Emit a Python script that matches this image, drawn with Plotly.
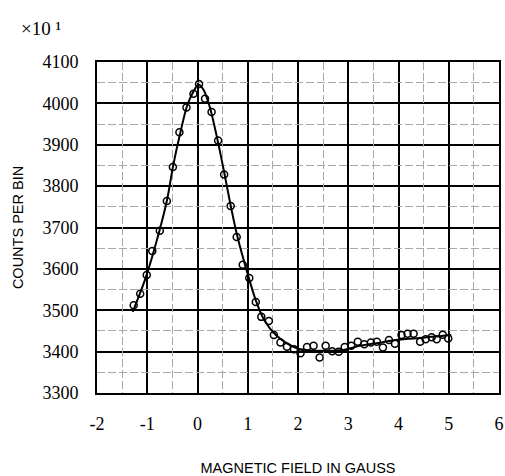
import plotly.graph_objects as go

# measured points (magnetic field in gauss, counts per bin x10)
field = [-1.27, -1.14, -1.01, -0.90, -0.75, -0.61, -0.49, -0.36, -0.22, -0.08,
         0.03, 0.15, 0.28, 0.41, 0.53, 0.66, 0.78, 0.90, 1.03, 1.16,
         1.27, 1.42, 1.52, 1.65, 1.78, 1.92, 2.05, 2.18, 2.31, 2.43,
         2.55, 2.68, 2.81, 2.93, 3.06, 3.19, 3.32, 3.45, 3.57, 3.69,
         3.81, 3.93, 4.06, 4.18, 4.30, 4.43, 4.54, 4.66, 4.76, 4.88, 4.99]
counts = [3512, 3540, 3585, 3643, 3692, 3764, 3846, 3930, 3990, 4023,
          4047, 4011, 3979, 3910, 3828, 3752, 3677, 3610, 3578, 3520,
          3484, 3474, 3440, 3422, 3412, 3406, 3396, 3411, 3414, 3386,
          3414, 3401, 3400, 3411, 3414, 3424, 3418, 3422, 3424, 3410,
          3428, 3419, 3440, 3443, 3443, 3424, 3430, 3435, 3430, 3441, 3432]

# fitted curve
fit_x = [-1.29, -1.03, -0.76, -0.60, -0.49, -0.34, -0.21, -0.08, 0.02, 0.12,
         0.25, 0.38, 0.53, 0.67, 0.80, 1.00, 1.16, 1.33, 1.56, 1.78,
         2.01, 2.24, 2.57, 2.90, 3.22, 3.55, 3.88, 4.20, 4.53, 4.86, 5.05]
fit_y = [3496, 3579, 3691, 3770, 3846, 3930, 3993, 4029, 4045, 4033,
         3989, 3922, 3834, 3747, 3675, 3587, 3524, 3476, 3440, 3420,
         3407, 3403, 3402, 3404, 3414, 3420, 3427, 3431, 3434, 3438, 3440]

x_ticks = [-2, -1, 0, 1, 2, 3, 4, 5, 6]
x_labels = ["-2", "-1", "0", "1", "2", "3", "4", "5", "6"]
y_ticks = [3300, 3400, 3500, 3600, 3700, 3800, 3900, 4000, 4100]
y_labels = ["3300", "3400", "3500", "3600", "3700", "3800", "3900", "4000", "4100"]
x_minor = [-1.5, -0.5, 0.5, 1.5, 2.5, 3.5, 4.5, 5.5]
y_minor = [3350, 3450, 3550, 3650, 3750, 3850, 3950, 4050]
scale_label = "\u00d710 \u00b9"

SERIF = "Liberation Serif"
SANS = "Liberation Sans"

fig = go.Figure()
# invisible trace carrying the minor-grid axes
fig.add_trace(go.Scatter(x=[-2, 6], y=[3300, 4100], xaxis="x2", yaxis="y2",
                         mode="markers", marker=dict(opacity=0), showlegend=False))
fig.add_trace(go.Scatter(x=fit_x, y=fit_y, mode="lines",
                         line=dict(color="black", width=2, shape="spline", smoothing=0.8),
                         showlegend=False))
fig.add_trace(go.Scatter(x=field, y=counts, mode="markers",
                         marker=dict(symbol="circle-open", size=7, color="black",
                                     line=dict(width=1.5, color="black")),
                         showlegend=False))

fig.update_layout(
    width=505, height=476,
    margin=dict(l=97, r=1, t=62, b=79),
    paper_bgcolor="white", plot_bgcolor="white",
    font=dict(family=SERIF, size=18, color="black"),
    xaxis2=dict(overlaying="x", range=[-2, 6], tickmode="array", tickvals=x_minor,
                showticklabels=False, ticks="", showgrid=True, gridcolor="#a8a8a8",
                gridwidth=1, griddash="8px,3px", zeroline=False, showline=False),
    yaxis2=dict(overlaying="y", range=[3300, 4100], tickmode="array", tickvals=y_minor,
                showticklabels=False, ticks="", showgrid=True, gridcolor="#a8a8a8",
                gridwidth=1, griddash="8px,3px", zeroline=False, showline=False),
    xaxis=dict(range=[-2, 6], tickmode="array", tickvals=x_ticks, ticktext=x_labels,
               showgrid=True, gridcolor="black", gridwidth=2,
               showline=True, linecolor="black", linewidth=2, mirror=True,
               ticks="outside", ticklen=13, tickcolor="white",
               ticklabeloverflow="allow",
               tickfont=dict(family=SERIF, size=18, color="black"),
               zeroline=False,
               title=dict(text="MAGNETIC FIELD IN GAUSS",
                          font=dict(family=SANS, size=14.5, color="black"),
                          standoff=31)),
    yaxis=dict(range=[3300, 4100], tickmode="array", tickvals=y_ticks, ticktext=y_labels,
               showgrid=True, gridcolor="black", gridwidth=2,
               showline=True, linecolor="black", linewidth=2, mirror=True,
               ticks="outside", ticklen=13, tickcolor="white",
               tickfont=dict(family=SERIF, size=18, color="black"),
               zeroline=False,
               title=dict(text="COUNTS PER BIN",
                          font=dict(family=SANS, size=14.5, color="black"),
                          standoff=15)),
)

fig.add_annotation(text=scale_label, xref="paper", yref="paper",
                   x=-0.194, y=1.10, xanchor="left", yanchor="middle",
                   showarrow=False, font=dict(family=SERIF, size=19, color="black"))

fig.write_html("out.html")
